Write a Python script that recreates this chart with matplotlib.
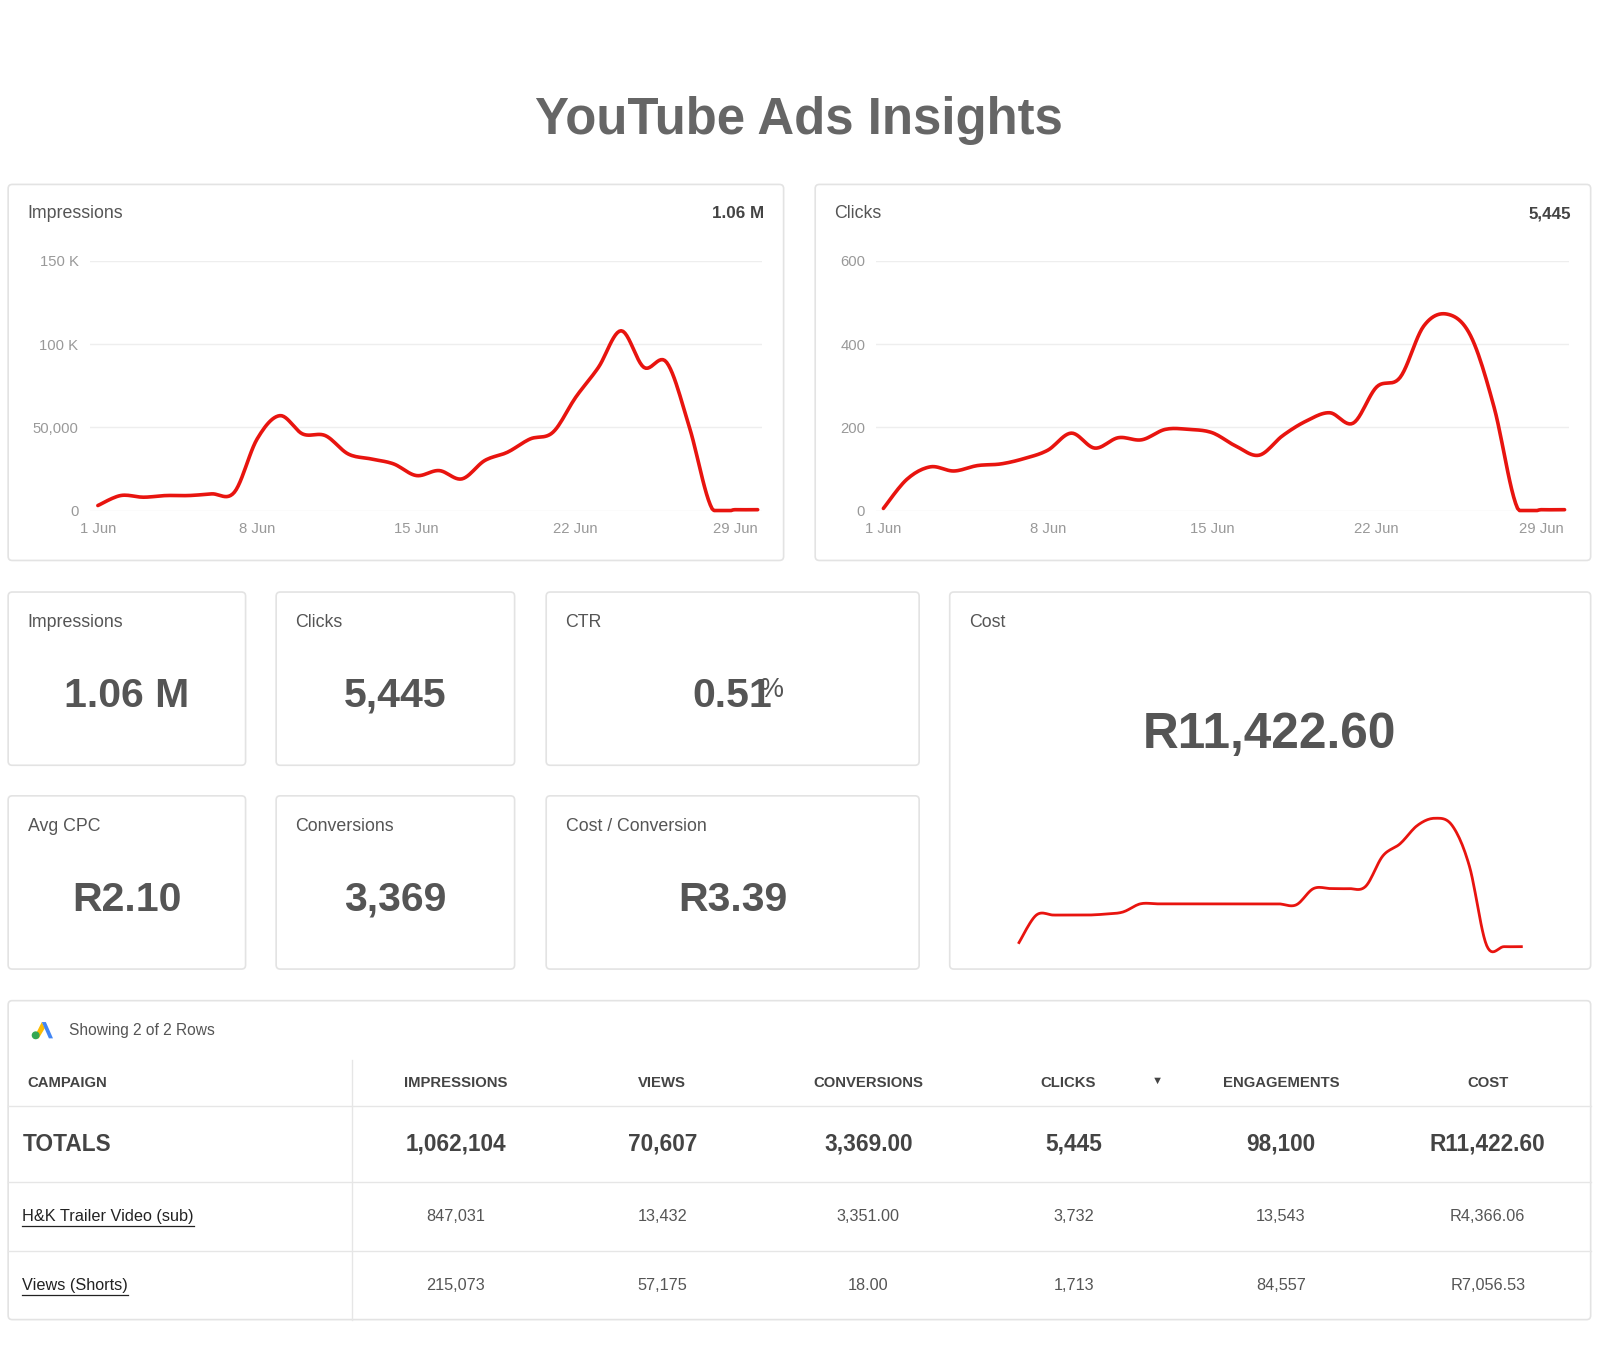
import numpy as np
import matplotlib
matplotlib.use("Agg")
import matplotlib.pyplot as plt
from matplotlib.patches import FancyBboxPatch, Polygon

plt.rcParams['font.family'] = ['Liberation Sans', 'DejaVu Sans']

days = list(range(1, 31))
impressions_daily = [3, 9, 8, 9, 9, 10, 11, 43, 57, 46, 45, 34, 31, 28, 21, 24, 19, 30, 35, 43, 47,
                     68, 86, 108, 86, 89, 50, 1, 0.5, 0.5]  # thousands
clicks_daily = [5, 75, 105, 95, 108, 112, 125, 145, 186, 150, 175, 170, 195, 195, 187, 155, 133, 180,
                215, 235, 210, 297, 320, 443, 472, 420, 248, 5, 2, 2]
cost_daily = [5, 32, 32, 32, 32, 33, 35, 43, 43, 43, 43, 43, 43, 43, 43, 43, 42, 58, 58, 58, 60,
              90, 102, 120, 127, 120, 80, 2, 1, 1]
xtick_days = [1, 8, 15, 22, 29]
xtick_labels = ['1 Jun', '8 Jun', '15 Jun', '22 Jun', '29 Jun']

kpi_labels = ['Impressions', 'Clicks', 'CTR', 'Avg CPC', 'Conversions', 'Cost / Conversion']
kpi_values = ['1.06 M', '5,445', '0.51', 'R2.10', '3,369', 'R3.39']
cost_total = 'R11,422.60'

table_headers = ['CAMPAIGN', 'IMPRESSIONS', 'VIEWS', 'CONVERSIONS', 'CLICKS', 'ENGAGEMENTS', 'COST']
totals_row = ['TOTALS', '1,062,104', '70,607', '3,369.00', '5,445', '98,100', 'R11,422.60']
rows = [['H&K Trailer Video (sub)', '847,031', '13,432', '3,351.00', '3,732', '13,543', 'R4,366.06'],
        ['Views (Shorts)', '215,073', '57,175', '18.00', '1,713', '84,557', 'R7,056.53']]

W, H = 1598, 1364
S = 1.019
fig = plt.figure(figsize=(W/100, H/100), dpi=100)
bg = fig.add_axes([0, 0, 1, 1])
bg.set_xlim(0, W/S); bg.set_ylim(H/S, 0); bg.axis('off')

def fs(v):
    return v*S

RED = '#e8140f'
TXT = '#555555'

def card(x0, y0, x1, y1):
    bg.add_patch(FancyBboxPatch((x0, y0), x1-x0, y1-y0, boxstyle="round,pad=0,rounding_size=4",
                                fc='white', ec='#e3e3e3', lw=1.2))

def smooth(x, y, n=12):
    x = np.asarray(x, float); y = np.asarray(y, float)
    P = np.vstack([x, y]).T
    P = np.vstack([P[0], P, P[-1]])
    out = []
    for i in range(1, len(P)-2):
        p0, p1, p2, p3 = P[i-1], P[i], P[i+1], P[i+2]
        for t in np.linspace(0, 1, n, endpoint=False):
            t2, t3 = t*t, t*t*t
            out.append(0.5*((2*p1) + (-p0+p2)*t + (2*p0-5*p1+4*p2-p3)*t2 + (-p0+3*p1-3*p2+p3)*t3))
    out.append(P[-2])
    out = np.array(out)
    return out[:, 0], out[:, 1]

def fax(x0, y0, x1, y1):
    x0, y0, x1, y1 = x0*S, y0*S, x1*S, y1*S
    return fig.add_axes([x0/W, 1-y1/H, (x1-x0)/W, (y1-y0)/H])

bg.text(784, 118, 'YouTube Ads Insights', ha='center', va='center', fontsize=fs(36), fontweight='bold', color='#666666')

def line_card(x0, x1, title, total, data, ymax, yticks, ylabels, ax_box, xl):
    card(x0, 181, x1, 550)
    bg.text(x0+19, 210, title, fontsize=fs(12.5), color=TXT, va='center')
    bg.text(x1-19, 210, total, fontsize=fs(12), color='#444', fontweight='bold', va='center', ha='right')
    ax = fax(*ax_box)
    sx, sy = smooth(days, data)
    ax.plot(sx, np.clip(sy, 0, None), color=RED, lw=2.6, solid_capstyle='round')
    ax.set_ylim(0, ymax); ax.set_xlim(*xl)
    ax.set_yticks(yticks); ax.set_yticklabels(ylabels)
    ax.set_xticks(xtick_days); ax.set_xticklabels(xtick_labels)
    ax.tick_params(length=0, labelsize=fs(10.5), colors='#999999', pad=8)
    ax.grid(axis='y', color='#eeeeee', lw=1)
    for s in ax.spines.values(): s.set_visible(False)
    ax.patch.set_alpha(0)
    ax.set_clip_on(False)
    for ln in ax.lines: ln.set_clip_on(False)

line_card(8, 769, 'Impressions', '1.06 M', impressions_daily, 150, [0, 50, 100, 150],
          ['0', '50,000', '100 K', '150 K'], (88, 256, 748, 501), (0.64, 30.2))
line_card(800, 1561, 'Clicks', '5,445', clicks_daily, 600, [0, 200, 400, 600],
          ['0', '200', '400', '600'], (860, 256, 1540, 501), (0.7, 30.2))

boxes = [(8, 241), (271, 505), (536, 902)]
for r, (y0, y1) in enumerate([(581, 751), (781, 951)]):
    for c, (x0, x1) in enumerate(boxes):
        i = r*3 + c
        card(x0, y0, x1, y1)
        bg.text(x0+19, y0+30, kpi_labels[i], fontsize=fs(12.5), color=TXT, va='center')
        cx = (x0+x1)/2
        bg.text(cx, y0+102, kpi_values[i], fontsize=fs(29), fontweight='bold', color=TXT, ha='center', va='center')
        if kpi_labels[i] == 'CTR':
            bg.text(cx+27, y0+96, '%', fontsize=fs(19), color=TXT, va='center', ha='left')

card(932, 581, 1561, 951)
bg.text(951, 611, 'Cost', fontsize=fs(12.5), color=TXT, va='center')
bg.text(1246, 721, cost_total, fontsize=fs(35), fontweight='bold', color=TXT, ha='center', va='center')
cax = fax(1000, 803, 1493, 930)
sx, sy = smooth(days, cost_daily)
cax.plot(sx, sy, color=RED, lw=2, clip_on=False)
cax.set_xlim(1, 30); cax.set_ylim(0, 127); cax.axis('off')

card(8, 982, 1561, 1295)
bg.add_patch(Polygon([[33, 1019], [41, 1003], [44, 1009], [38, 1019]], closed=True, fc='#fbbc04'))
bg.add_patch(Polygon([[41, 1003], [45, 1003], [52, 1019], [48, 1019]], closed=True, fc='#4285f4'))
bg.add_patch(plt.Circle((35, 1016), 3.2, color='#34a853'))
bg.text(68, 1011, 'Showing 2 of 2 Rows', fontsize=fs(11), color=TXT, va='center')
colx = [27, 447, 650, 852, 1054, 1257, 1460]
bg.plot([345, 345], [1040, 1295], color='#e6e6e6', lw=1)
for yy in [1085, 1160, 1228]:
    bg.plot([8, 1561], [yy, yy], color='#e6e6e6', lw=1)
for j, h in enumerate(table_headers):
    x = colx[j] if j != 4 else 1048
    bg.text(x, 1063, h, fontsize=fs(10.5), fontweight='bold', color='#444', va='center',
            ha='left' if j == 0 else 'center')
bg.text(1136, 1061, '▼', fontsize=fs(8), color='#444', ha='center', va='center')
for j, v in enumerate(totals_row):
    x = 22 if j == 0 else colx[j]
    bg.text(x, 1123, v, fontsize=fs(16), fontweight='bold', color='#444', va='center',
            ha='left' if j == 0 else 'center')
for r, (row, yy) in enumerate(zip(rows, [1194, 1262])):
    for j, v in enumerate(row):
        if j == 0:
            t = bg.text(22, yy, v, fontsize=fs(11.5), color='#222', va='center', ha='left')
            fig.canvas.draw()
            bb = t.get_window_extent().transformed(bg.transData.inverted())
            bg.plot([bb.x0, bb.x1], [yy+9, yy+9], color='#222', lw=0.9)
        else:
            bg.text(colx[j], yy, v, fontsize=fs(11.5), color=TXT, va='center', ha='center')

fig.savefig('out.png', dpi=100, facecolor='white')
